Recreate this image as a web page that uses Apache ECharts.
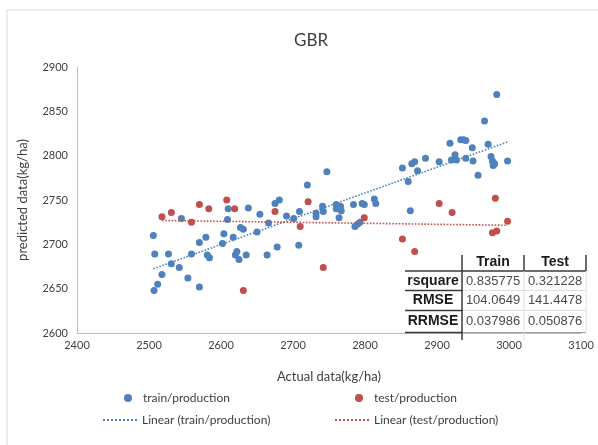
<!DOCTYPE html>
<html>
<head>
<meta charset="utf-8">
<script src="https://cdn.jsdelivr.net/npm/echarts@6/dist/echarts.min.js"></script>
<style>
html,body{margin:0;padding:0;background:#fff;}
#chart{width:598px;height:445px;}
</style>
</head>
<body>
<div id="chart"></div>
<script>
// ---- data ----
const trainX = [2506,2508,2507,2512,2518,2527,2531,2542,2545,2554,2559,2570,2570,2579,2581,2584,2602,2604,2609,2610,2617,2620,2622,2625,2627,2631,2635,2638,2650,2654,2664,2666,2675,2678,2681,2691,2701,2708,2709,2720,2732,2732,2741,2742,2747,2760,2760,2764,2766,2767,2784,2786,2790,2793,2796,2799,2813,2815,2852,2860,2863,2865,2869,2873,2884,2903,2918,2920,2925,2927,2933,2937,2940,2940,2949,2950,2957,2966,2971,2975,2977,2978,2980,2983,2998];
const trainY = [2710,2689,2648,2655,2666,2689,2678,2674,2729,2662,2689,2652,2702,2708,2688,2685,2701,2712,2728,2740,2708,2688,2692,2683,2719,2717,2688,2741,2714,2734,2688,2724,2746,2697,2750,2732,2729,2699,2737,2767,2735,2731,2743,2737,2782,2745,2740,2730,2743,2738,2745,2720,2723,2725,2746,2745,2751,2746,2786,2771,2738,2791,2793,2783,2797,2793,2814,2795,2801,2795,2818,2818,2817,2797,2809,2794,2778,2839,2813,2799,2794,2789,2791,2869,2794];
const testX = [2518,2531,2559,2570,2583,2608,2619,2631,2675,2710,2721,2742,2799,2852,2869,2903,2921,2981,2977,2983,2998];
const testY = [2731,2736,2725,2745,2740,2750,2740,2648,2737,2720,2748,2674,2730,2706,2692,2746,2736,2752,2713,2715,2726];

const tableCols = ['Train','Test'];
const tableRows = ['rsquare','RMSE','RRMSE'];
const trainStats = ['0.835775','104.0649','0.037986'];
const testStats = ['0.321228','141.4478','0.050876'];

const xTicks = {min:2400, max:3100, interval:100};
const yTicks = {min:2600, max:2900, interval:50};

// ---- helpers ----
function pairs(xs, ys){ return xs.map((x,i)=>[x, ys[i]]); }
function linFit(xs, ys){
  const n = xs.length;
  let sx=0, sy=0, sxx=0, sxy=0;
  for(let i=0;i<n;i++){ sx+=xs[i]; sy+=ys[i]; sxx+=xs[i]*xs[i]; sxy+=xs[i]*ys[i]; }
  const b = (n*sxy - sx*sy)/(n*sxx - sx*sx);
  const a = (sy - b*sx)/n;
  const x0 = Math.min(...xs), x1 = Math.max(...xs);
  return [[x0, a+b*x0],[x1, a+b*x1]];
}

const BLUE = '#4f81bd', RED = '#c0504d';
const FONT = 'Lato, "Noto Sans", sans-serif';
const TFONT = '"Liberation Sans Narrow", "Arial Narrow", "Liberation Sans", sans-serif';

const chart = echarts.init(document.getElementById('chart'), null, {renderer:'canvas'});

// table graphics
const colX = [433, 493, 555];
const rowY = [262, 281, 300.5, 321];
const tbl = [];
const dark = '#3a3a3a', light = '#dcdcdc';
function ln(x1,y1,x2,y2,c,w){ tbl.push({type:'line', shape:{x1,y1,x2,y2}, style:{stroke:c, lineWidth:w||1}, z:10}); }
function tx(x,y,t,bold){ tbl.push({type:'text', x, y, style:{text:t, x:0, y:0, textAlign:'center', textVerticalAlign:'middle', font:(bold?'bold 14px ':'13px ')+TFONT, fill: bold?'#1a1a1a':'#4a4a4a'}, z:11}); }
ln(405,271,586,271,dark,1.5);
ln(405,290.5,462,290.5,dark,1.5); ln(462,290.5,586,290.5,light,1);
ln(405,310.5,462,310.5,dark,1.5); ln(462,310.5,586,310.5,light,1);
ln(405,332.5,462,332.5,dark,1.5); ln(462,332.5,586,332.5,'#9a9a9a',1);
ln(462,255,462,340,dark,1.5);
ln(524,255,524,271,dark,1.5); ln(524,271,524,340,light,1);
ln(586,255,586,271,dark,1.5); ln(586,271,586,333,light,1);
tableCols.forEach((c,i)=>tx(colX[i+1], rowY[0], c, true));
tableRows.forEach((r,i)=>{
  tx(colX[0], rowY[i+1], r, true);
  tx(colX[1], rowY[i+1], trainStats[i], false);
  tx(colX[2], rowY[i+1], testStats[i], false);
});
// chart border
tbl.push({type:'rect', shape:{x:7, y:10, width:700, height:500}, style:{fill:'none', stroke:'#d9d9d9', lineWidth:1}, z:-1});

// dotted-line legend icon (9 small dots)
let dotPath = 'path://';
for(let i=0;i<9;i++){ dotPath += 'M'+(i*4)+',0h2v2h-2z'; }

const legendBase = {orient:'horizontal', padding:0, itemGap:0, textStyle:{fontFamily:FONT, fontSize:12, color:'#404040'}};

const option = {
  backgroundColor:'#fff',
  animation:false,
  title:{text:'GBR', left:306, top:27, textAlign:'center', textStyle:{fontFamily:FONT, fontSize:17, fontWeight:'normal', color:'#404040'}},
  grid:{left:77, right:17, top:67, bottom:112},
  xAxis:{type:'value', min:xTicks.min, max:xTicks.max, interval:xTicks.interval,
    name:'Actual data(kg/ha)', nameLocation:'middle', nameGap:37,
    nameTextStyle:{fontFamily:FONT, fontSize:13, color:'#404040'},
    axisLine:{show:true, lineStyle:{color:'#bfbfbf'}}, axisTick:{show:false}, splitLine:{show:false},
    axisLabel:{fontFamily:FONT, fontSize:11, color:'#404040', margin:7, formatter:v=>String(v)}},
  yAxis:{type:'value', min:yTicks.min, max:yTicks.max, interval:yTicks.interval,
    name:'predicted data(kg/ha)', nameLocation:'middle', nameGap:48,
    nameTextStyle:{fontFamily:FONT, fontSize:13, color:'#404040'},
    axisLine:{show:true, lineStyle:{color:'#bfbfbf'}}, axisTick:{show:false}, splitLine:{show:false},
    axisLabel:{fontFamily:FONT, fontSize:11, color:'#404040', margin:9, formatter:v=>String(v)}},
  legend:[
    Object.assign({}, legendBase, {data:[{name:'train/production', icon:'circle'}], left:124, top:392, itemWidth:8, itemHeight:8, textStyle:Object.assign({}, legendBase.textStyle, {padding:[0,0,0,6]})}),
    Object.assign({}, legendBase, {data:[{name:'test/production', icon:'circle'}], left:355, top:392, itemWidth:8, itemHeight:8, textStyle:Object.assign({}, legendBase.textStyle, {padding:[0,0,0,6]})}),
    Object.assign({}, legendBase, {data:[{name:'Linear (train/production)', icon:dotPath}], left:103, top:414, itemWidth:34, itemHeight:2}),
    Object.assign({}, legendBase, {data:[{name:'Linear (test/production)', icon:dotPath}], left:335, top:414, itemWidth:34, itemHeight:2})
  ],
  graphic: tbl,
  series:[
    {name:'train/production', type:'scatter', data:pairs(trainX, trainY), symbolSize:7, itemStyle:{color:BLUE, opacity:1}, z:3},
    {name:'test/production', type:'scatter', data:pairs(testX, testY), symbolSize:7, itemStyle:{color:RED, opacity:1}, z:3},
    {name:'Linear (train/production)', type:'line', data:linFit(trainX, trainY), symbol:'none', showSymbol:false, lineStyle:{color:BLUE, width:1.6, type:'dotted'}, itemStyle:{color:BLUE}, z:4},
    {name:'Linear (test/production)', type:'line', data:linFit(testX, testY), symbol:'none', showSymbol:false, lineStyle:{color:RED, width:1.6, type:'dotted'}, itemStyle:{color:RED}, z:4}
  ]
};
chart.setOption(option);
</script>
</body>
</html>
